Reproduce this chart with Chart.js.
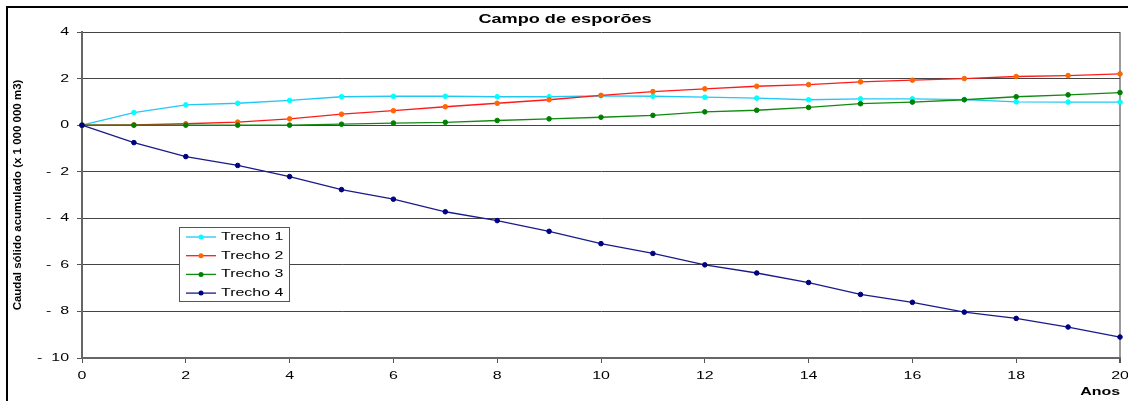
<!DOCTYPE html>
<html lang="pt">
<head>
<meta charset="utf-8">
<title>Campo de esporões</title>
<script src="https://cdn.jsdelivr.net/npm/chart.js@4/dist/chart.umd.min.js"></script>
<style>
  html, body { margin: 0; padding: 0; background: #fff; overflow: hidden; }
  #wrap { width: 1128px; height: 401px; position: relative; }
</style>
</head>
<body>
<div id="wrap"><canvas id="chart"></canvas></div>
<script>
// Anos (eixo horizontal)
const years = [0, 1, 2, 3, 4, 5, 6, 7, 8, 9, 10, 11, 12, 13, 14, 15, 16, 17, 18, 19, 20];

// Caudal sólido acumulado por trecho (x 1 000 000 m3)
const trecho1 = [0, 0.54, 0.87, 0.94, 1.06, 1.22, 1.24, 1.24, 1.22, 1.22, 1.26, 1.24, 1.20, 1.16, 1.09, 1.13, 1.13, 1.10, 1.00, 0.99, 0.99];
const trecho2 = [0, 0.01, 0.06, 0.13, 0.27, 0.47, 0.62, 0.79, 0.94, 1.09, 1.28, 1.44, 1.56, 1.67, 1.74, 1.86, 1.93, 2.00, 2.09, 2.13, 2.20];
const trecho3 = [0, 0, 0, 0, 0, 0.04, 0.09, 0.12, 0.20, 0.27, 0.34, 0.42, 0.57, 0.64, 0.76, 0.92, 0.99, 1.09, 1.22, 1.30, 1.40];
const trecho4 = [0, -0.75, -1.35, -1.73, -2.21, -2.77, -3.18, -3.72, -4.10, -4.56, -5.09, -5.51, -6.00, -6.35, -6.76, -7.27, -7.61, -8.03, -8.30, -8.67, -9.10];

const seriesNames = ['Trecho 1', 'Trecho 2', 'Trecho 3', 'Trecho 4'];
const yMin = -10, yMax = 4, yStep = 2;
const xMin = 0, xMax = 20, xStep = 2;

const FONT = '"Liberation Sans", Arial, sans-serif';
// Horizontal text is drawn wide (horizontally expanded lettering)
const TEXT_STRETCH = 1.45;

const canvas = document.getElementById('chart');
const ctx2d = canvas.getContext('2d');
const baseFillText = ctx2d.fillText;
ctx2d.fillText = function (text, x, y, maxWidth) {
  const m = this.getTransform();
  if (m.b !== 0 || m.c !== 0) {
    // rotated text (vertical axis title) keeps normal proportions
    return maxWidth === undefined ? baseFillText.call(this, text, x, y) : baseFillText.call(this, text, x, y, maxWidth);
  }
  this.save();
  this.translate(x, y);
  this.scale(TEXT_STRETCH, 1);
  if (maxWidth === undefined) baseFillText.call(this, text, 0, 0);
  else baseFillText.call(this, text, 0, 0, maxWidth / TEXT_STRETCH);
  this.restore();
};

const toPoints = vals => vals.map((v, i) => ({ x: years[i], y: v }));

function series(label, values, lineColor, markerColor, order) {
  return {
    label,
    data: toPoints(values),
    borderColor: lineColor,
    backgroundColor: markerColor,
    pointBackgroundColor: markerColor,
    pointBorderColor: markerColor,
    borderWidth: 1.3,
    pointRadius: 2.3,
    pointBorderWidth: 1,
    pointStyle: 'circle',
    tension: 0,
    fill: false,
    clip: 6,
    order
  };
}

// Outer frame of the chart
const chartFrame = {
  id: 'chartFrame',
  beforeDraw(chart) {
    const c = chart.ctx;
    c.save();
    c.fillStyle = '#fff';
    c.fillRect(0, 0, chart.width, chart.height);
    c.strokeStyle = '#000';
    c.lineWidth = 2;
    c.strokeRect(7, 7, chart.width + 40, chart.height + 40);
    c.restore();
  }
};

// Boxed legend inside the plot area
const boxedLegend = {
  id: 'boxedLegend',
  afterDatasetsDraw(chart) {
    const c = chart.ctx;
    const bx = 179, by = 227, bw = 110, bh = 74;
    c.save();
    c.fillStyle = '#fff';
    c.fillRect(bx, by, bw, bh);
    c.strokeStyle = '#555';
    c.lineWidth = 1;
    c.strokeRect(bx + 0.5, by + 0.5, bw, bh);
    c.font = '11px ' + FONT;
    c.textAlign = 'left';
    c.textBaseline = 'middle';
    chart.data.datasets.forEach((ds, i) => {
      const cy = 237 + i * 18.7;
      c.strokeStyle = ds.borderColor;
      c.lineWidth = ds.borderWidth;
      c.beginPath();
      c.moveTo(186, cy);
      c.lineTo(216, cy);
      c.stroke();
      c.fillStyle = ds.pointBackgroundColor;
      c.beginPath();
      c.arc(201, cy, 2.5, 0, Math.PI * 2);
      c.fill();
      c.fillStyle = '#000';
      c.fillText(ds.label, 221, cy);
    });
    c.restore();
  }
};

new Chart(canvas, {
  type: 'line',
  data: {
    datasets: [
      series(seriesNames[0], trecho1, '#22C8F5', '#00FFFF', 4),
      series(seriesNames[1], trecho2, '#FF1A1A', '#FF6600', 3),
      series(seriesNames[2], trecho3, '#118A11', '#008000', 2),
      series(seriesNames[3], trecho4, '#1A1A8C', '#000080', 1)
    ]
  },
  options: {
    responsive: true,
    maintainAspectRatio: false,
    devicePixelRatio: 1,
    animation: false,
    layout: { padding: { left: 10, right: 8, top: 0, bottom: 0 } },
    plugins: {
      legend: { display: false },
      tooltip: { enabled: false },
      title: {
        display: true,
        text: 'Campo de esporões',
        color: '#000',
        font: { family: FONT, size: 12.5, weight: 'bold', lineHeight: 1.2 },
        padding: { top: 12, bottom: 5 }
      }
    },
    scales: {
      x: {
        type: 'linear',
        min: xMin,
        max: xMax,
        afterFit(scale) {
          scale.height = 43;
          scale.paddingLeft = 0;
          scale.paddingRight = 0;
        },
        ticks: {
          stepSize: xStep,
          color: '#000',
          font: { family: FONT, size: 11 },
          padding: 6,
          maxRotation: 0,
          autoSkip: false
        },
        grid: {
          color: c => (c.tick && c.tick.value === xMax ? '#9a9a9a' : 'rgba(0,0,0,0)'),
          lineWidth: c => (c.tick && c.tick.value === xMax ? 2 : 1),
          tickColor: '#555',
          tickLength: 5
        },
        border: { display: true, color: '#666', width: 2 },
        title: {
          display: true,
          text: 'Anos',
          align: 'end',
          color: '#000',
          font: { family: FONT, size: 11, weight: 'bold', lineHeight: 1.2 },
          padding: { top: 0, bottom: 2 }
        }
      },
      y: {
        min: yMin,
        max: yMax,
        afterFit(scale) {
          scale.width = 72;
          scale.paddingTop = 0;
          scale.paddingBottom = 0;
        },
        ticks: {
          stepSize: yStep,
          color: '#000',
          font: { family: FONT, size: 11 },
          padding: 8,
          callback: v => (v < 0 ? '-  ' + Math.abs(v) : String(v))
        },
        grid: {
          color: '#444',
          lineWidth: 1,
          tickColor: '#555',
          tickLength: 5
        },
        border: { display: true, color: '#666', width: 2 },
        title: {
          display: true,
          text: 'Caudal sólido acumulado (x 1 000 000 m3)',
          color: '#000',
          font: { family: FONT, size: 11.5, weight: 'bold', lineHeight: 1.2 },
          padding: { top: 1, bottom: 0 }
        }
      }
    }
  },
  plugins: [chartFrame, boxedLegend]
});
</script>
</body>
</html>
